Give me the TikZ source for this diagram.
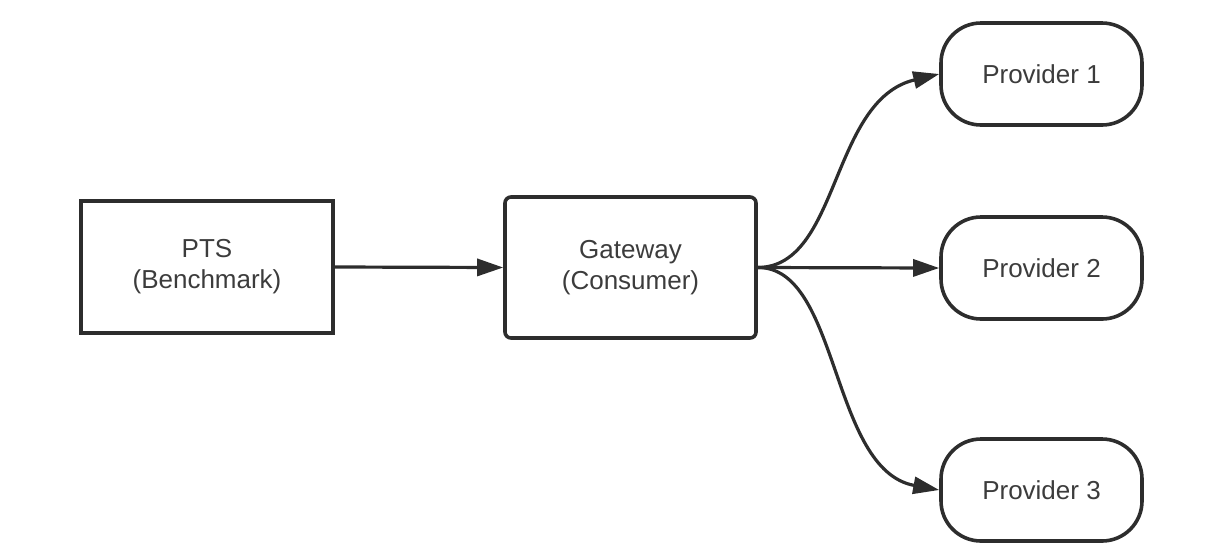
\documentclass[tikz,border=0pt]{standalone}
\usepackage{fontspec}
\setmainfont{Liberation Sans}
\usetikzlibrary{arrows.meta}
\definecolor{inkgray}{RGB}{45, 45, 45}
\definecolor{textgray}{RGB}{60, 60, 60}

\begin{document}
\begin{tikzpicture}[x=0.5pt, y=-0.5pt,
    every node/.style={font=\fontsize{13}{15.5}\selectfont, text=textgray, align=center},
    bench/.style={draw=inkgray, line width=1.8pt, minimum width=126pt, minimum height=66pt},
    gate/.style={draw=inkgray, line width=1.8pt, rounded corners=3pt, minimum width=125.5pt, minimum height=70.5pt},
    provider/.style={draw=inkgray, line width=1.8pt, rounded corners=20pt, minimum width=100.5pt, minimum height=51pt},
    link/.style={draw=inkgray, line width=1.6pt, -{Triangle[length=13pt, width=8.5pt]}}]
    % Canvas
    \useasboundingbox (0, 0) rectangle (1224, 558);

    % Boxes
    \node[bench] (pts) at (207, 267) {PTS\\(Benchmark)};
    \node[gate] (gateway) at (630.5, 267.5) {Gateway\\(Consumer)};
    \node[provider] (prov1) at (1041.5, 74) {Provider 1};
    \node[provider] (prov2) at (1041.5, 268) {Provider 2};
    \node[provider] (prov3) at (1041.5, 490) {Provider 3};

    % Connectors
    \draw[link] (pts.east) -- (gateway.west);
    \draw[link] (gateway.east) -- (prov2.west);
    \draw[link] (gateway.east) .. controls (840, 267) and (830, 100) .. (prov1.west);
    \draw[link] (gateway.east) .. controls (840, 267) and (830, 470) .. (prov3.west);
\end{tikzpicture}
\end{document}
